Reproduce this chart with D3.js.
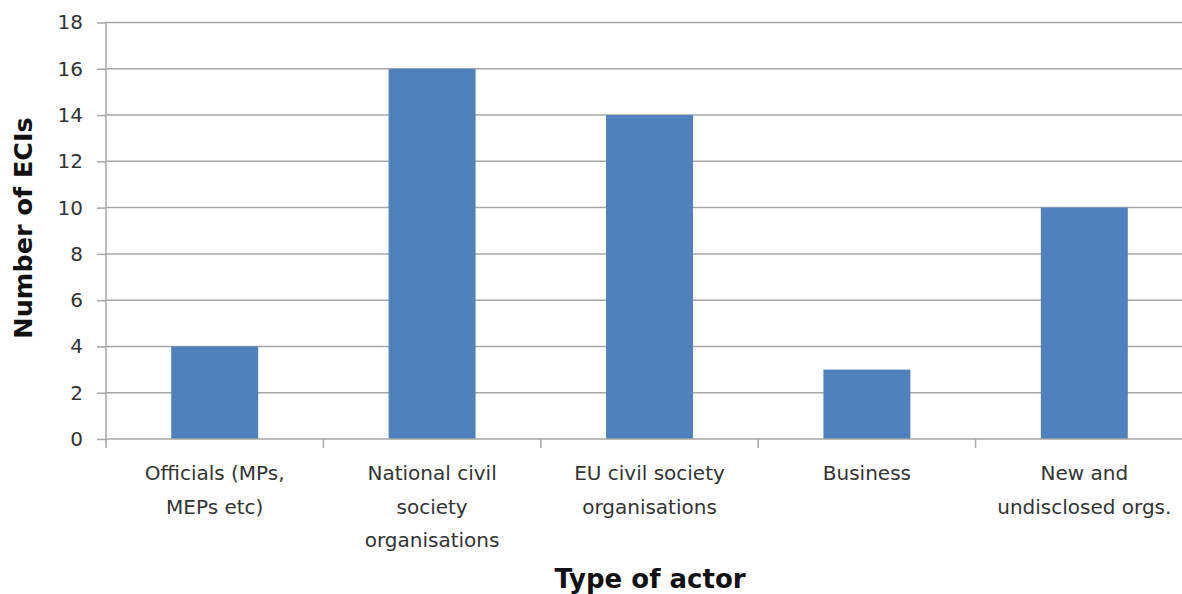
<!DOCTYPE html>
<html><head><meta charset="utf-8">
<script src="https://cdn.jsdelivr.net/npm/d3@7"></script>
<style>body{margin:0;background:#fff}svg{display:block}</style>
</head><body>
<script>
const categories = [["Officials (MPs,","MEPs etc)"],["National civil","society","organisations"],["EU civil society","organisations"],["Business"],["New and","undisclosed orgs."]];
const values = [4,16,14,3,10];
const yTicks = [0,2,4,6,8,10,12,14,16,18];
const yTitle = "Number of ECIs";
const xTitle = "Type of actor";

(function(){
const W=1182,H=594;
const svg=d3.select("body").append("svg").attr("width",W).attr("height",H);
const left=106, bandW=217.4, plotTop=22.5, bottom=439;
const x=d3.scaleBand().domain(d3.range(categories.length)).range([left,left+bandW*5]).paddingInner(0.6).paddingOuter(0.3);
const y=d3.scaleLinear().domain([0,18]).range([bottom,plotTop]);
const font="'DejaVu Sans', sans-serif";
const grid="#a6a6a6";
const txt="#333";

// gridlines
svg.append("g").selectAll("line").data(yTicks.filter(d=>d>0)).join("line")
 .attr("x1",left).attr("x2",W).attr("y1",d=>y(d)).attr("y2",d=>y(d))
 .attr("stroke",grid).attr("stroke-width",1.5);

// bars
svg.append("g").selectAll("rect").data(values).join("rect")
 .attr("x",(d,i)=>x(i)).attr("width",x.bandwidth())
 .attr("y",d=>y(d)).attr("height",d=>y(0)-y(d)).attr("fill","#4f81bd");

// y axis
const ya=svg.append("g").attr("transform",`translate(${left},0)`).call(d3.axisLeft(y).tickValues(yTicks).tickSize(9).tickPadding(14));
ya.selectAll("path,line").attr("stroke",grid).attr("stroke-width",1.5);
ya.select(".domain").attr("d",`M0,${bottom}V${plotTop}`);
ya.selectAll("text").attr("font-family",font).attr("font-size",20).attr("fill",txt);

// x axis
const xb=svg.append("g");
xb.append("line").attr("x1",left).attr("x2",W).attr("y1",bottom).attr("y2",bottom).attr("stroke",grid).attr("stroke-width",1.5);
xb.selectAll(".tk").data(d3.range(categories.length+1)).join("line").attr("class","tk")
 .attr("x1",i=>left+i*bandW).attr("x2",i=>left+i*bandW).attr("y1",bottom).attr("y2",bottom+9)
 .attr("stroke",grid).attr("stroke-width",1.5);
xb.selectAll("text").data(categories).join("text")
 .attr("transform",(d,i)=>`translate(${x(i)+x.bandwidth()/2},0)`)
 .attr("text-anchor","middle").attr("font-family",font).attr("font-size",20).attr("fill",txt)
 .each(function(d){
   d3.select(this).selectAll("tspan").data(d).join("tspan").attr("x",0).attr("y",(t,j)=>480+j*33.5).text(t=>t);
 });

svg.append("text").attr("transform",`translate(32,228) rotate(-90)`).attr("text-anchor","middle")
 .attr("font-family",font).attr("font-weight","bold").attr("font-size",25.5).attr("fill","#111").text(yTitle);
svg.append("text").attr("x",650).attr("y",588).attr("text-anchor","middle")
 .attr("font-family",font).attr("font-weight","bold").attr("font-size",26).attr("fill","#111").text(xTitle);
})();
</script>
</body></html>
